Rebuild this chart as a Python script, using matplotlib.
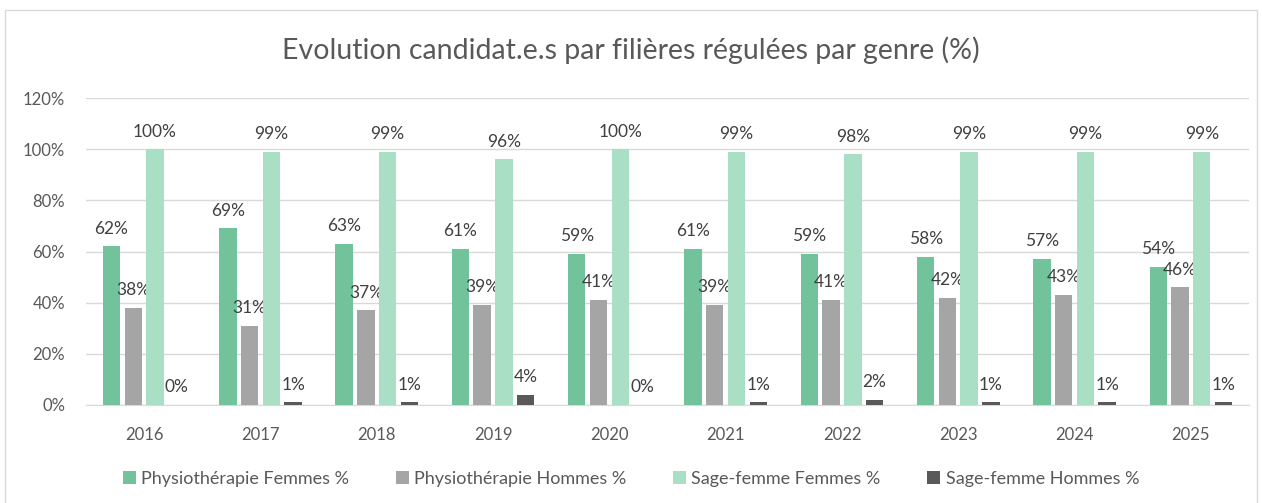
import matplotlib.pyplot as plt
import numpy as np
from matplotlib.patches import Rectangle

years = ['2016', '2017', '2018', '2019', '2020', '2021', '2022', '2023', '2024', '2025']
physio_f = [62, 69, 63, 61, 59, 61, 59, 58, 57, 54]
physio_h = [38, 31, 37, 39, 41, 39, 41, 42, 43, 46]
sage_f = [100, 99, 99, 96, 100, 99, 98, 99, 99, 99]
sage_h = [0, 1, 1, 4, 0, 1, 2, 1, 1, 1]

series = [
    ('Physiothérapie Femmes %', physio_f, '#72c29b'),
    ('Physiothérapie Hommes %', physio_h, '#a5a5a5'),
    ('Sage-femme Femmes %', sage_f, '#a9dfc5'),
    ('Sage-femme Hommes %', sage_h, '#595959'),
]

plt.rcParams['font.family'] = ['Lato', 'DejaVu Sans']

fig = plt.figure(figsize=(12.62, 5.03), dpi=100)
ax = fig.add_axes([86 / 1262, 0.195, (1249 - 86) / 1262, 0.61])

x = np.arange(len(years))
w = 0.15
step = 0.187
for i, (name, vals, col) in enumerate(series):
    bars = ax.bar(x + (i - 1.5) * step, vals, w, color=col, label=name, zorder=3)
    ax.bar_label(bars, labels=[f'{v}%' for v in vals], padding=7,
                 fontsize=12.5, color='#404040')

ax.set_ylim(0, 120)
ax.set_xlim(-0.5, len(years) - 0.5)
ax.set_yticks(range(0, 121, 20))
ax.set_yticklabels([f'{t}%' for t in range(0, 121, 20)])
ax.set_xticks(x)
ax.set_xticklabels(years)
ax.tick_params(length=0, labelsize=12, labelcolor='#595959')
ax.tick_params(axis='y', pad=15)
ax.tick_params(axis='x', pad=16)
ax.grid(axis='y', color='#d9d9d9', linewidth=1, zorder=0)
for s in ['top', 'right', 'left']:
    ax.spines[s].set_visible(False)
ax.spines['bottom'].set_color('#d9d9d9')

fig.text(0.5, 0.9, 'Evolution candidat.e.s par filières régulées par genre (%)',
         ha='center', va='center', fontsize=20.5, color='#595959')

fig.legend(loc='center', bbox_to_anchor=(0.5, 0.048), ncol=4, frameon=False,
           fontsize=13, handlelength=0.7, handleheight=0.7, columnspacing=2.6,
           handletextpad=0.3, labelcolor='#595959')

fig.patches.append(Rectangle((0.004, -0.01), 0.992, 0.99, transform=fig.transFigure,
                             fill=False, edgecolor='#d9d9d9', linewidth=1))

fig.savefig('out.png', dpi=100)
